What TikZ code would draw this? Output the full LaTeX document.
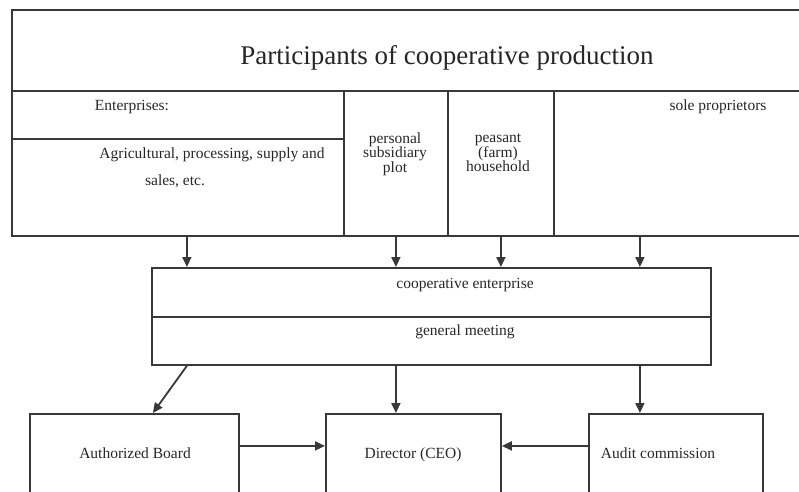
\documentclass[tikz,border=0pt]{standalone}
\usepackage{fontspec}
\setmainfont{Liberation Serif}
\usetikzlibrary{arrows.meta}
\definecolor{linec}{HTML}{383838}
\definecolor{textc}{HTML}{262626}
\begin{document}
\begin{tikzpicture}[x=1pt,y=-1pt,
  box/.style={draw=linec, line width=1.8pt, inner sep=0pt, anchor=north west},
  txt/.style={text=textc, inner sep=0pt, font=\fontsize{15.5}{14.5}\selectfont},
  ttl/.style={text=textc, inner sep=0pt, font=\fontsize{27}{30}\selectfont},
  arr/.style={draw=linec, line width=1.8pt, -{Triangle[length=10pt,width=9pt]}}]
\useasboundingbox (0,0) rectangle (799,491);
\clip (0,0) rectangle (799,491);
% top table
\node[box, minimum width=799pt, minimum height=81pt] (title) at (11,9) {};
\node[box, minimum width=332pt, minimum height=48pt] (ent) at (11,90) {};
\node[box, minimum width=332pt, minimum height=97pt] (agr) at (11,138) {};
\node[box, minimum width=104pt, minimum height=145pt] (pers) at (343,90) {};
\node[box, minimum width=106pt, minimum height=145pt] (peas) at (447,90) {};
\node[box, minimum width=257pt, minimum height=145pt] (sole) at (553,90) {};
% middle
\node[box, minimum width=559pt, minimum height=49pt] (coop) at (151,267) {};
\node[box, minimum width=559pt, minimum height=48pt] (gm) at (151,316) {};
% bottom
\node[box, minimum width=209pt, minimum height=100pt] (board) at (29,413) {};
\node[box, minimum width=175pt, minimum height=100pt] (dir) at (325,413) {};
\node[box, minimum width=174pt, minimum height=100pt] (audit) at (588,413) {};
% texts
\node[ttl, anchor=base] (ttitle) at (447,64) {Participants of cooperative production};
\node[txt, anchor=base] (tent) at (132,110) {Enterprises:};
\node[txt, anchor=base] (tagr1) at (212,158) {Agricultural, processing, supply and};
\node[txt, anchor=base] (tagr2) at (175,185) {sales, etc.};
\node[txt, anchor=north, align=center] (tpers) at (395,132.5) {personal\\subsidiary\\plot};
\node[txt, anchor=north, align=center] (tpeas) at (498,134) {peasant\\(farm)\\household};
\node[txt, anchor=base] (tsole) at (718,110) {sole proprietors};
\node[txt, anchor=base] (tcoop) at (465,288) {cooperative enterprise};
\node[txt, anchor=base] (tgm) at (465,335) {general meeting};
\node[txt, anchor=base] (tboard) at (135,458) {Authorized Board};
\node[txt, anchor=base] (tdir) at (413,458) {Director (CEO)};
\node[txt, anchor=base] (taudit) at (658,458) {Audit commission};
% arrows top -> coop
\draw[arr] ([xshift=9pt]agr.south) -- ([xshift=9pt]agr.south |- coop.north);
\draw[arr] (pers.south) -- (pers.south |- coop.north);
\draw[arr] (peas.south) -- (peas.south |- coop.north);
\draw[arr] ([xshift=-42.5pt]sole.south) -- ([xshift=-42.5pt]sole.south |- coop.north);
% arrows gm -> bottom
\draw[arr] ([xshift=-244.5pt]gm.south) -- ([xshift=18.5pt]board.north);
\draw[arr] ([xshift=-35.5pt]gm.south) -- ([xshift=-35.5pt]gm.south |- dir.north);
\draw[arr] ([xshift=-36pt]audit.north |- gm.south) -- ([xshift=-36pt]audit.north);
% horizontal
\draw[arr] ([yshift=18pt]board.east) -- ([yshift=18pt]board.east -| dir.west);
\draw[arr] ([yshift=18pt]audit.west) -- ([yshift=18pt]audit.west -| dir.east);
\end{tikzpicture}
\end{document}
